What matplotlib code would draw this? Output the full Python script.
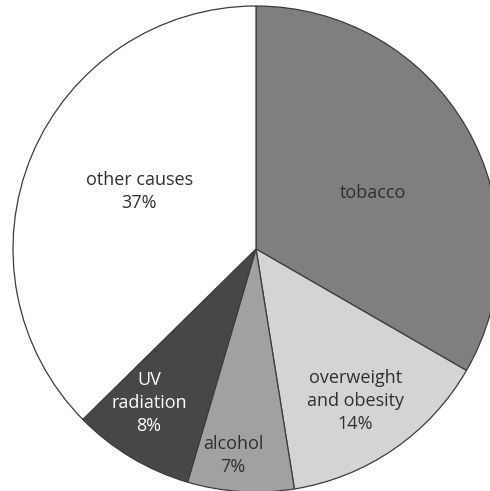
import matplotlib.pyplot as plt

# data (tobacco not labelled, ~33%)
causes = ["tobacco", "overweight\nand obesity", "alcohol", "UV\nradiation", "other causes"]
shares = [33, 14, 7, 8, 37]
show_pct = [False, True, True, True, True]

colors = ["#7f7f7f", "#d4d4d4", "#a1a1a1", "#474747", "#ffffff"]
text_colors = ["#303030", "#303030", "#303030", "#ffffff", "#303030"]
# label centres in pie units (radius = 1)
label_pos = [(0.48, 0.23), (0.41, -0.626), (-0.095, -0.848), (-0.44, -0.634), (-0.48, 0.235)]

plt.rcParams['font.family'] = ['Open Sans', 'DejaVu Sans']

fig = plt.figure(figsize=(4.9, 4.91), dpi=100)
ax = fig.add_axes([13 / 490, -1 / 491, 486 / 490, 486 / 491])

wedges, _ = ax.pie(shares, colors=colors, startangle=90, counterclock=False,
                   wedgeprops=dict(edgecolor="#3c3c3c", linewidth=0.9))

for name, val, pct, (x, y), tc in zip(causes, shares, show_pct, label_pos, text_colors):
    txt = f"{name}\n{val}%" if pct else name
    ax.text(x, y, txt, ha="center", va="center", fontsize=13, color=tc,
            linespacing=1.35)

ax.set_xlim(-1, 1)
ax.set_ylim(-1, 1)
ax.set_aspect("auto")
ax.axis("off")

fig.savefig("out.png", dpi=100)
